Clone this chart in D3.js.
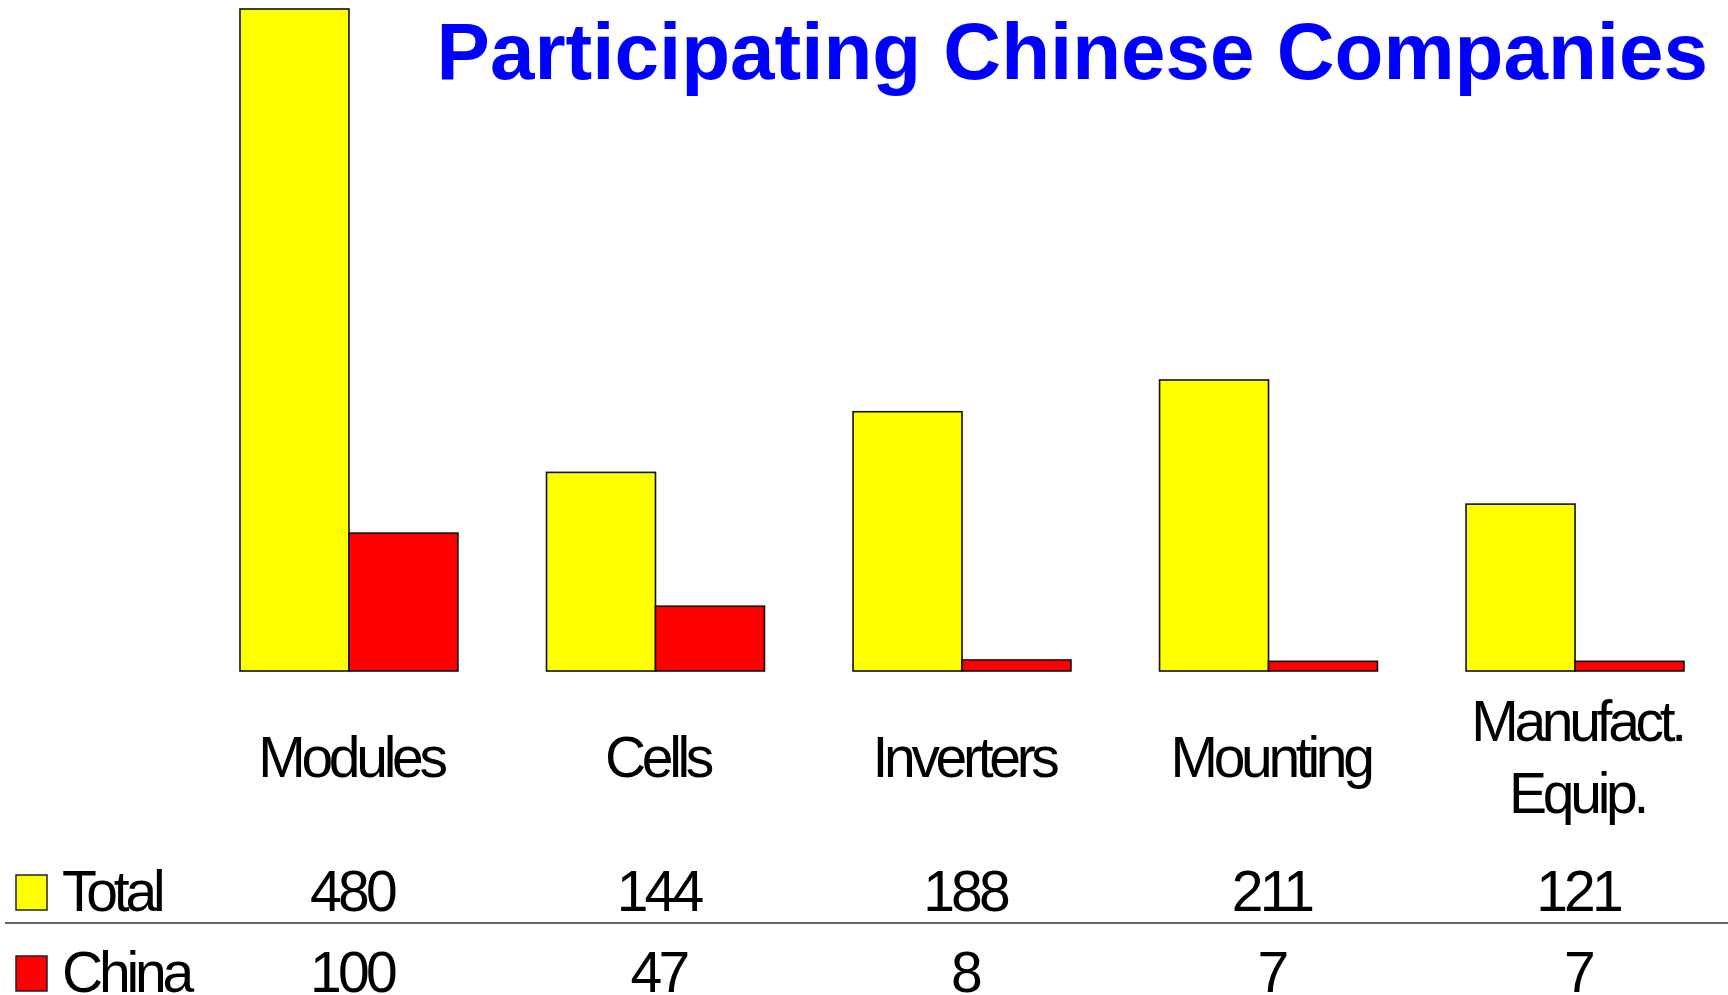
<!DOCTYPE html>
<html>
<head>
<meta charset="utf-8">
<script src="https://cdn.jsdelivr.net/npm/d3@7"></script>
<style>
  html, body { margin: 0; padding: 0; background: #fff; overflow: hidden; }
  svg { display: block; }
  text { font-family: "Liberation Sans", Arial, sans-serif; }
</style>
</head>
<body>
<svg id="chart" width="1728" height="995"></svg>
<script>
const categories = ["Modules", "Cells", "Inverters", "Mounting", "Manufact.\nEquip."];
const seriesNames = ["Total", "China"];
const totalValues = [480, 144, 188, 211, 121];
const chinaValues = [100, 47, 8, 7, 7];
const seriesColors = ["#ffff00", "#ff0000"];
const title = "Participating Chinese Companies";

const svg = d3.select("#chart");
const W = 1728, H = 995;

const x = d3.scaleBand().domain(categories).range([240, 1684]).paddingInner(0.289).paddingOuter(0);
const xs = d3.scaleBand().domain(seriesNames).range([0, x.bandwidth()]).padding(0);
const y = d3.scaleLinear().domain([0, 480]).range([671, 9]);

const series = [totalValues, chinaValues];

// bars
seriesNames.forEach((s, si) => {
  svg.append("g").selectAll("rect")
    .data(categories.map((c, i) => ({c, v: series[si][i]})))
    .join("rect")
    .attr("x", d => x(d.c) + xs(s))
    .attr("y", d => y(d.v))
    .attr("width", xs.bandwidth())
    .attr("height", d => y(0) - y(d.v))
    .attr("fill", seriesColors[si])
    .attr("stroke", "#111")
    .attr("stroke-width", 1.6);
});

// title
svg.append("text")
  .attr("x", 1708).attr("y", 79)
  .attr("text-anchor", "end")
  .attr("font-size", 80).attr("font-weight", "bold")
  .attr("fill", "#0000ff")
  .text(title);

// category labels
const labelG = svg.append("g");
categories.forEach(c => {
  const lines = c.split("\n");
  const cx = x(c) + x.bandwidth() / 2;
  const lh = 72;
  const base = 777 - (lines.length - 1) * lh / 2;
  const t = labelG.append("text")
    .attr("text-anchor", "middle")
    .attr("font-size", 57)
    .attr("letter-spacing", "-4.3px")
    .attr("fill", "#000");
  lines.forEach((ln, li) => {
    t.append("tspan").attr("x", cx + 2).attr("y", base + li * lh).text(ln);
  });
});

// data table
const rowBase = [911, 992];
seriesNames.forEach((s, si) => {
  svg.append("rect")
    .attr("x", 16).attr("y", rowBase[si] - 36)
    .attr("width", 31).attr("height", 35)
    .attr("fill", seriesColors[si])
    .attr("stroke", "#222").attr("stroke-width", 1.5);
  svg.append("text")
    .attr("x", 62).attr("y", rowBase[si])
    .attr("font-size", 57)
    .attr("letter-spacing", "-4.2px")
    .text(s);
  categories.forEach((c, i) => {
    svg.append("text")
      .attr("x", x(c) + x.bandwidth() / 2 + 3)
      .attr("y", rowBase[si])
      .attr("text-anchor", "middle")
      .attr("font-size", 57)
      .attr("letter-spacing", "-3.8px")
      .text(series[si][i]);
  });
});

svg.append("line")
  .attr("x1", 5).attr("x2", W)
  .attr("y1", 923).attr("y2", 923)
  .attr("stroke", "#333").attr("stroke-width", 1.5);
</script>
</body>
</html>
